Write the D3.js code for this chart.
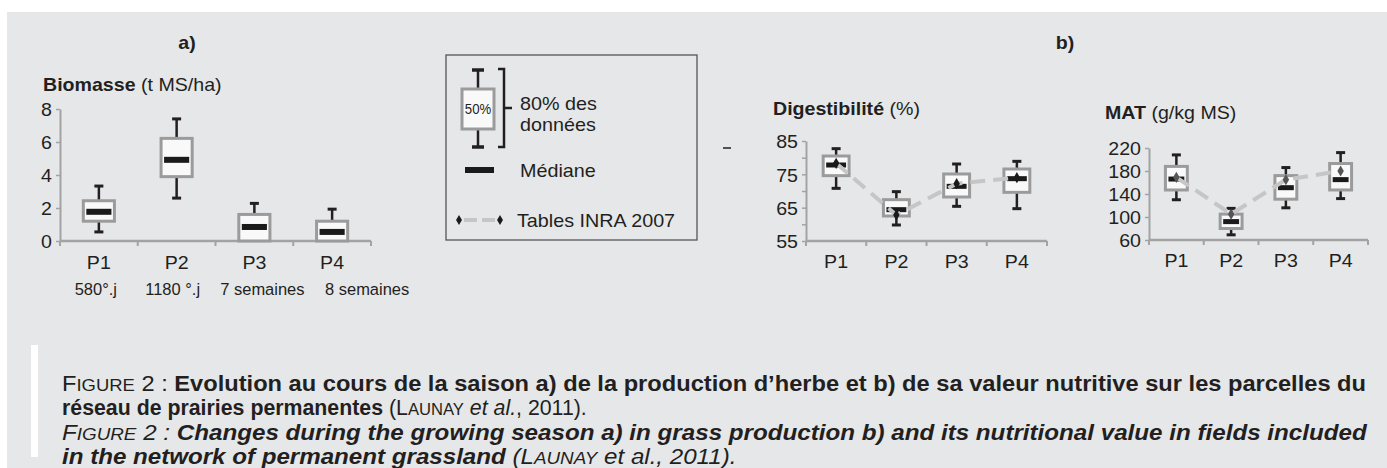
<!DOCTYPE html>
<html>
<head>
<meta charset="utf-8">
<script src="https://cdn.jsdelivr.net/npm/d3@7"></script>
<style>
  body { margin: 0; background: #fff; }
  svg { display: block; font-family: "Liberation Sans", Arial, sans-serif; }
</style>
</head>
<body>
<script>
const W = 1387, H = 468;

// categories
const periods = ["P1", "P2", "P3", "P4"];
const periodNotes = ["580°.j", "1180 °.j", "7 semaines", "8 semaines"];

// a) Biomasse (t MS/ha): whisker low, Q1, median, Q3, whisker high
const bioLow  = [0.55, 2.6, 0, 0];
const bioQ1   = [1.2, 3.9, 0, 0];
const bioMed  = [1.77, 4.92, 0.85, 0.55];
const bioQ3   = [2.44, 6.22, 1.61, 1.2];
const bioHigh = [3.33, 7.4, 2.28, 1.93];
const bioTicks = [0, 2, 4, 6, 8];

// b) Digestibilité (%)
const digLow  = [70.8, 59.8, 65.4, 64.7];
const digQ1   = [74.6, 62.5, 68.2, 69.6];
const digMed  = [77.8, 64.4, 71.4, 73.7];
const digQ3   = [80.5, 67.4, 75.1, 76.6];
const digHigh = [82.7, 69.8, 78.1, 78.9];
const digInra = [78.3, 62.8, 72.2, 74.0];
const digTicks = [55, 60, 65, 70, 75, 80, 85];

// b) MAT (g/kg MS)
const matLow  = [130, 69, 116, 132];
const matQ1   = [147, 80, 131, 147];
const matMed  = [166, 92, 151, 165];
const matQ3   = [188, 105, 172, 193];
const matHigh = [208, 115, 186, 212];
const matInra = [169, 105, 165, 180];
const matTicks = [60, 100, 140, 180, 220];

const ink = "#231f20", axisGrey = "#a3a3a3", boxGrey = "#9b9b9b", dashGrey = "#c6c6c6";
const bg = "#e6e7e9";
const fs = 18.5, sx = 1.06; // chart text size and slight horizontal stretch

const svg = d3.select("body").append("svg").attr("width", W).attr("height", H);
svg.append("rect").attr("x", 7).attr("y", 12).attr("width", W - 7).attr("height", H - 12).attr("fill", bg);

// horizontal stretch of a text element around its anchor x
function stretch(sel, k) {
  sel.each(function () {
    const t = d3.select(this);
    const x = +t.attr("x") || 0;
    t.attr("transform", `translate(${x},0) scale(${k},1) translate(${-x},0)`);
  });
}

function rowsOf(lo, q1, med, q3, hi, inra) {
  return periods.map((p, i) => ({p, lo: lo[i], q1: q1[i], med: med[i], q3: q3[i], hi: hi[i], inra: inra ? inra[i] : null}));
}

function boxChart(o) {
  const g = svg.append("g");
  const x = d3.scaleBand().domain(periods).range([o.x0, o.x1]);
  const y = d3.scaleLinear().domain(o.domain).range([o.y0, o.y1]);
  const bw = x.bandwidth() * o.boxFrac;
  const cx = p => x(p) + x.bandwidth() / 2;

  // y axis
  const ya = g.append("g").attr("transform", `translate(${o.x0},0)`)
    .call(d3.axisLeft(y).tickValues(o.ticks).tickSize(4).tickSizeOuter(0).tickPadding(4)
      .tickFormat(o.labelIf ? (d => o.labelIf(d) ? d : "") : d3.format("d")));
  ya.select(".domain").attr("stroke", axisGrey).attr("stroke-width", 2);
  ya.selectAll(".tick line").attr("stroke", axisGrey).attr("stroke-width", 1.5);
  ya.selectAll(".tick text").attr("fill", ink).attr("font-size", fs).attr("font-family", null)
    .attr("dy", "0.36em")
    .attr("transform", `translate(-8,0) scale(${sx},1) translate(8,0)`);

  // x axis: baseline with ticks at band boundaries
  const bounds = periods.map(p => x(p)).concat([o.x1]);
  g.append("line").attr("x1", o.x0).attr("x2", o.x1).attr("y1", o.y0).attr("y2", o.y0)
    .attr("stroke", axisGrey).attr("stroke-width", 2.5);
  g.selectAll("line.xt").data(bounds).join("line").attr("class", "xt")
    .attr("x1", d => d).attr("x2", d => d).attr("y1", o.y0).attr("y2", o.y0 + 5)
    .attr("stroke", axisGrey).attr("stroke-width", 2);
  g.selectAll("text.xl").data(periods).join("text").attr("class", "xl")
    .attr("x", cx).attr("y", o.y0 + o.labelDy).attr("text-anchor", "middle")
    .attr("font-size", fs).attr("fill", ink).text(d => d)
    .call(stretch, sx);

  // title
  const tt = g.append("text").attr("x", o.titleX).attr("y", o.titleY).attr("font-size", fs).attr("fill", ink);
  tt.append("tspan").attr("font-weight", "bold").text(o.titleBold);
  tt.append("tspan").text(o.titleRest);
  stretch(tt, sx);

  const rows = o.rows;
  const b = g.selectAll("g.box").data(rows).join("g").attr("class", "box")
    .attr("transform", d => `translate(${cx(d.p)},0)`);
  // whiskers
  b.filter(d => d.hi > d.q3).append("line").attr("y1", d => y(d.q3)).attr("y2", d => y(d.hi))
    .attr("stroke", ink).attr("stroke-width", 2.5);
  b.filter(d => d.hi > d.q3).append("line").attr("x1", -o.cap / 2).attr("x2", o.cap / 2)
    .attr("y1", d => y(d.hi)).attr("y2", d => y(d.hi)).attr("stroke", ink).attr("stroke-width", 3);
  b.filter(d => d.lo < d.q1).append("line").attr("y1", d => y(d.q1)).attr("y2", d => y(d.lo))
    .attr("stroke", ink).attr("stroke-width", 2.5);
  b.filter(d => d.lo < d.q1).append("line").attr("x1", -o.cap / 2).attr("x2", o.cap / 2)
    .attr("y1", d => y(d.lo)).attr("y2", d => y(d.lo)).attr("stroke", ink).attr("stroke-width", 3);
  // boxes
  b.append("rect").attr("x", -bw / 2).attr("width", bw)
    .attr("y", d => y(d.q3)).attr("height", d => y(d.q1) - y(d.q3))
    .attr("fill", "#f9f9f9").attr("stroke", boxGrey).attr("stroke-width", 3);
  // medians
  b.append("rect").attr("x", -bw / 2 + 3).attr("width", bw - 6)
    .attr("y", d => y(d.med) - o.medH / 2).attr("height", o.medH).attr("fill", "#1a1a1a");

  // INRA 2007 tables
  if (o.inra) {
    g.append("path").datum(rows)
      .attr("d", d3.line().x(d => cx(d.p)).y(d => y(d.inra)))
      .attr("fill", "none").attr("stroke", dashGrey).attr("stroke-width", 4)
      .attr("stroke-dasharray", "15,8");
    g.selectAll("path.dia").data(rows).join("path").attr("class", "dia")
      .attr("transform", d => `translate(${cx(d.p)},${y(d.inra)})`)
      .attr("d", d3.symbol(d3.symbolDiamond, 36)).attr("fill", o.diaColor);
  }
  return {g, x, y};
}

// a) Biomasse
const ca = boxChart({
  x0: 60, x1: 371, y0: 241, y1: 109, domain: [0, 8], ticks: bioTicks, boxFrac: 0.4,
  cap: 9, medH: 6, labelDy: 28, titleX: 43, titleY: 91,
  titleBold: "Biomasse", titleRest: " (t MS/ha)",
  rows: rowsOf(bioLow, bioQ1, bioMed, bioQ3, bioHigh)
});
const noteDx = [-3, -4, 8, 35];
ca.g.selectAll("text.note").data(periodNotes).join("text").attr("class", "note")
  .attr("x", (d, i) => ca.x(periods[i]) + ca.x.bandwidth() / 2 + noteDx[i]).attr("y", 295)
  .attr("text-anchor", "middle").attr("font-size", 17).attr("fill", ink).text(d => d)
  .call(stretch, 0.97);

// b) Digestibilité
boxChart({
  x0: 806, x1: 1047, y0: 241, y1: 141, domain: [55, 85], ticks: digTicks, boxFrac: 0.43,
  labelIf: d => (d - 55) % 10 === 0,
  cap: 9, medH: 5, labelDy: 27, titleX: 773, titleY: 115,
  titleBold: "Digestibilité", titleRest: " (%)",
  rows: rowsOf(digLow, digQ1, digMed, digQ3, digHigh, digInra), inra: true, diaColor: "#1a1a1a"
});

// b) MAT
boxChart({
  x0: 1149, x1: 1368, y0: 240, y1: 148, domain: [60, 220], ticks: matTicks, boxFrac: 0.4,
  cap: 9, medH: 5, labelDy: 27, titleX: 1105, titleY: 119,
  titleBold: "MAT", titleRest: " (g/kg MS)",
  rows: rowsOf(matLow, matQ1, matMed, matQ3, matHigh, matInra), inra: true, diaColor: "#555"
});

// panel letters
svg.append("text").attr("x", 187).attr("y", 49).attr("text-anchor", "middle").attr("font-weight", "bold")
  .attr("font-size", fs).attr("fill", ink).text("a)").call(stretch, sx);
svg.append("text").attr("x", 1065).attr("y", 49).attr("text-anchor", "middle").attr("font-weight", "bold")
  .attr("font-size", fs).attr("fill", ink).text("b)").call(stretch, sx);
svg.append("line").attr("x1", 723).attr("x2", 731).attr("y1", 148).attr("y2", 148)
  .attr("stroke", ink).attr("stroke-width", 1.5);

// legend
const lfs = 19, lsx = 1.04;
const lg = svg.append("g");
lg.append("rect").attr("x", 446).attr("y", 55).attr("width", 251).attr("height", 185)
  .attr("fill", "none").attr("stroke", "#555").attr("stroke-width", 1.3);
lg.append("line").attr("x1", 478).attr("x2", 478).attr("y1", 70).attr("y2", 147).attr("stroke", ink).attr("stroke-width", 2.5);
[70, 147].forEach(yy => lg.append("line").attr("x1", 472).attr("x2", 484).attr("y1", yy).attr("y2", yy)
  .attr("stroke", ink).attr("stroke-width", 3.5));
lg.append("rect").attr("x", 462).attr("y", 89).attr("width", 32).attr("height", 40)
  .attr("fill", "#f9f9f9").attr("stroke", boxGrey).attr("stroke-width", 3);
lg.append("text").attr("x", 478).attr("y", 114).attr("text-anchor", "middle").attr("font-size", 15)
  .attr("fill", ink).text("50%").call(stretch, 0.88);
lg.append("path").attr("d", "M498,69H504V147H498M504,108H512").attr("fill", "none")
  .attr("stroke", ink).attr("stroke-width", 2.5);
lg.append("text").attr("x", 520).attr("y", 110).attr("font-size", lfs).attr("fill", ink).text("80% des").call(stretch, lsx);
lg.append("text").attr("x", 520).attr("y", 131).attr("font-size", lfs).attr("fill", ink).text("données").call(stretch, lsx);
lg.append("rect").attr("x", 465).attr("y", 167).attr("width", 29).attr("height", 6).attr("fill", "#1a1a1a");
lg.append("text").attr("x", 520).attr("y", 177).attr("font-size", lfs).attr("fill", ink).text("Médiane").call(stretch, lsx);
lg.append("line").attr("x1", 459).attr("x2", 500).attr("y1", 220).attr("y2", 220)
  .attr("stroke", dashGrey).attr("stroke-width", 4).attr("stroke-dasharray", "0,5,13,5,13,5");
[459, 500].forEach(xx => lg.append("path").attr("transform", `translate(${xx},220)`)
  .attr("d", d3.symbol(d3.symbolDiamond, 30)).attr("fill", "#1a1a1a"));
lg.append("text").attr("x", 517).attr("y", 227).attr("font-size", lfs).attr("fill", ink).text("Tables INRA 2007").call(stretch, lsx);

// caption
svg.append("rect").attr("x", 31).attr("y", 345).attr("width", 7).attr("height", 112).attr("fill", "#fff");
const capX = 62, capSize = 22;
function captionLine(y, parts, width) {
  const t = svg.append("text").attr("x", capX).attr("y", y).attr("font-size", capSize).attr("fill", ink)
    .attr("font-family", '"Liberation Sans Narrow", "Liberation Sans", Arial, sans-serif');
  parts.forEach(p => {
    const s = t.append("tspan").text(p.t);
    if (p.b) s.attr("font-weight", "bold");
    if (p.i) s.attr("font-style", "italic");
    if (p.sc) s.attr("font-size", capSize * 0.78);
  });
  const len = t.node().getComputedTextLength();
  t.attr("transform", `translate(${capX},0) scale(${width / len},1) translate(${-capX},0)`);
}
captionLine(391, [
  {t: "F"}, {t: "IGURE", sc: 1}, {t: " 2 : "},
  {t: "Evolution au cours de la saison a) de la production d’herbe et b) de sa valeur nutritive sur les parcelles du", b: 1}
], 1305);
captionLine(415, [
  {t: "réseau de prairies permanentes", b: 1}, {t: " (L"}, {t: "AUNAY", sc: 1}, {t: " et al.", i: 1}, {t: ", 2011)."}
], 525);
captionLine(440, [
  {t: "F", i: 1}, {t: "IGURE", sc: 1, i: 1}, {t: " 2 : ", i: 1},
  {t: "Changes during the growing season a) in grass production b) and its nutritional value in fields included", b: 1, i: 1}
], 1305);
captionLine(464, [
  {t: "in the network of permanent grassland", b: 1, i: 1}, {t: " (L", i: 1}, {t: "AUNAY", sc: 1, i: 1},
  {t: " et al., 2011).", i: 1}
], 675);
</script>
</body>
</html>
